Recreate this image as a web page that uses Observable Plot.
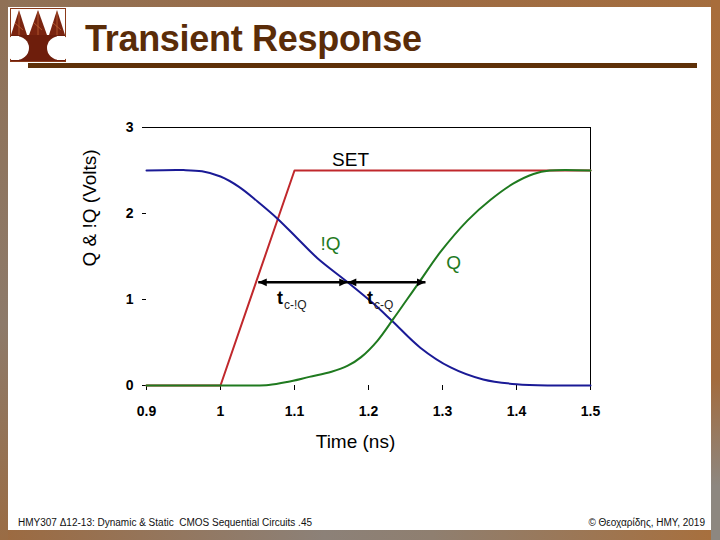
<!DOCTYPE html>
<html>
<head>
<meta charset="utf-8">
<script src="https://cdn.jsdelivr.net/npm/d3@7"></script>
<script src="https://cdn.jsdelivr.net/npm/@observablehq/plot@0.6"></script>
<style>
html, body { margin: 0; padding: 0; }
body {
  width: 720px; height: 540px; overflow: hidden; position: relative;
  background: linear-gradient(90deg, #9c6a40 0%, #8c8178 45%, #8f7f70 60%, #a86f3c 100%);
  font-family: "Liberation Sans", Arial, sans-serif;
}
#topband { position: absolute; left: 0; top: 0; width: 720px; height: 8px;
  background: linear-gradient(90deg, #8f7258 0%, #9a6b46 40%, #a46d3e 100%); }
#leftband { position: absolute; left: 0; top: 0; width: 8px; height: 540px;
  background: linear-gradient(180deg, #8f7055 0%, #8d7a6a 60%, #9a6c44 100%); }
#rightband { position: absolute; left: 711px; top: 0; width: 9px; height: 540px;
  background: linear-gradient(180deg, #a86d3b 0%, #a36b3d 70%, #8d8780 90%); }
#panel { position: absolute; left: 8px; top: 7px; width: 703px; height: 523px; background: #fff; }
#title { position: absolute; left: 85px; top: 21px; font: bold 36px/36px "Liberation Sans", Arial, sans-serif;
  color: #5a2c08; white-space: nowrap; letter-spacing: -0.3px; }
#rule { position: absolute; left: 28px; top: 63px; width: 669px; height: 5px; background: #5e3008; }
#logo { position: absolute; left: 10px; top: 8px; }
#chart { position: absolute; left: 0; top: 100px; }
.foot { position: absolute; top: 518px; font: 10px/10px "Liberation Sans", Arial, sans-serif; color: #111; white-space: nowrap; }
#footL { left: 18px; }
#footR { right: 15px; }
</style>
</head>
<body>
<div id="topband"></div>
<div id="leftband"></div>
<div id="rightband"></div>
<div id="panel"></div>
<svg id="logo" width="56" height="54" viewBox="0 0 56 54">
  <rect x="0.5" y="0.5" width="55" height="53" fill="#fff" stroke="#8b3a1a"/>
  <polygon points="9,2 1,27 17,27" fill="#7a2410"/>
  <polygon points="28,2 19,27 37,27" fill="#7a2410"/>
  <polygon points="47,2 39,27 55,27" fill="#7a2410"/>
  <g stroke="#c76a3a" stroke-width="0.7">
    <line x1="9" y1="4" x2="9" y2="27"/><line x1="28" y1="4" x2="28" y2="27"/><line x1="47" y1="4" x2="47" y2="27"/>
    <line x1="5" y1="15" x2="13" y2="22"/><line x1="24" y1="15" x2="32" y2="22"/><line x1="43" y1="15" x2="51" y2="22"/>
  </g>
  <rect x="1" y="27" width="54" height="26" fill="#6e1e0c"/>
  <ellipse cx="6" cy="40" rx="13" ry="12" fill="#fff"/>
  <ellipse cx="50" cy="40" rx="13" ry="12" fill="#fff"/>
  <rect x="1" y="28" width="8" height="24" fill="#fff"/>
  <rect x="47" y="28" width="8" height="24" fill="#fff"/>
</svg>
<div id="title">Transient Response</div>
<div id="rule"></div>
<div id="chart"></div>
<div class="foot" id="footL">HMY307 Δ12-13: Dynamic &amp; Static &nbsp;CMOS Sequential Circuits .45</div>
<div class="foot" id="footR">© Θεοχαρίδης, HMY, 2019</div>
<script>
// ---- data ----
const setT = [0.9, 1.0, 1.1, 1.5];
const setV = [0, 0, 2.5, 2.5];

const nqT = [0.9, 0.95, 0.975, 1.0, 1.025, 1.05, 1.077, 1.104, 1.131, 1.172, 1.207, 1.232, 1.27, 1.311, 1.355, 1.40, 1.45, 1.5];
const nqV = [2.5, 2.505, 2.49, 2.43, 2.31, 2.14, 1.94, 1.71, 1.48, 1.2, 0.95, 0.75, 0.44, 0.21, 0.07, 0.015, 0.0, 0.0];

const qT = [0.9, 0.95, 1.0, 1.04, 1.065, 1.09, 1.12, 1.15, 1.172, 1.19, 1.212, 1.234, 1.252, 1.27, 1.297, 1.334, 1.365, 1.396, 1.423, 1.445, 1.5];
const qV = [0, 0, 0, 0, 0.005, 0.04, 0.1, 0.16, 0.23, 0.33, 0.52, 0.78, 1.0, 1.22, 1.55, 1.92, 2.16, 2.35, 2.46, 2.5, 2.5];

const xTicks = [0.9, 1.0, 1.1, 1.2, 1.3, 1.4, 1.5];
const xTickLabels = ["0.9", "1", "1.1", "1.2", "1.3", "1.4", "1.5"];
const yTicks = [0, 1, 2, 3];
const yTickLabels = ["0", "1", "2", "3"];

// delay arrows (time from, time to, level)
const arrowFrom = [1.051, 1.172];
const arrowTo = [1.172, 1.277];
const arrowLevel = 1.2;

// curve labels
const curveLabelText = ["SET", "!Q", "Q"];
const curveLabelT = [1.1757, 1.1486, 1.315];
const curveLabelV = [2.628, 1.651, 1.43];
const curveLabelColor = ["#000000", "#1f7a1f", "#1f7a1f"];

// delay labels: t with subscript
const delaySub = ["c-!Q", "c-Q"];
const delayT = [1.0845, 1.2061];
const delayV = [0.942, 0.942];

// ---- build tables ----
const zipTV = (T, V) => T.map((t, i) => ({t, v: V[i]}));
const setData = zipTV(setT, setV);
const nqData = zipTV(nqT, nqV);
const qData = zipTV(qT, qV);
const arrows = arrowFrom.map((a, i) => ({t1: a, t2: arrowTo[i], v: arrowLevel}));
const curveLabels = curveLabelText.map((s, i) => ({s, t: curveLabelT[i], v: curveLabelV[i], c: curveLabelColor[i]}));
const delayLabels = delaySub.map((s, i) => ({s, t: delayT[i], v: delayV[i]}));

const headRight = {draw(ctx, size) { const s = Math.sqrt(size) * 1.2; ctx.moveTo(0, 0); ctx.lineTo(-s, -s * 0.45); ctx.lineTo(-s, s * 0.45); ctx.closePath(); }};
const headLeft = {draw(ctx, size) { const s = Math.sqrt(size) * 1.2; ctx.moveTo(0, 0); ctx.lineTo(s, -s * 0.45); ctx.lineTo(s, s * 0.45); ctx.closePath(); }};

const font = "'Liberation Sans', Arial, sans-serif";

const chart = Plot.plot({
  width: 720,
  height: 370,
  marginLeft: 146,
  marginRight: 130,
  marginTop: 27,
  marginBottom: 85,
  style: {fontFamily: font, background: "transparent", color: "#000"},
  x: {domain: [0.9, 1.5]},
  y: {domain: [0, 3]},
  marks: [
    Plot.ruleY([3], {stroke: "#000", strokeWidth: 1}),
    Plot.ruleX([1.5], {stroke: "#000", strokeWidth: 1}),
    Plot.axisX({ticks: xTicks, tickFormat: (d, i) => xTickLabels[i], tickSize: 5, tickPadding: 16,
      fontSize: 14, fontWeight: "bold", label: null, stroke: "#000"}),
    Plot.axisY({ticks: yTicks, tickFormat: (d, i) => yTickLabels[i], tickSize: 4, tickPadding: 9,
      fontSize: 14, fontWeight: "bold", label: null, stroke: "#000"}),
    Plot.line(setData, {x: "t", y: "v", stroke: "#c0282c", strokeWidth: 2}),
    Plot.line(nqData, {x: "t", y: "v", stroke: "#1a1a96", strokeWidth: 2, curve: "catmull-rom"}),
    Plot.line(qData, {x: "t", y: "v", stroke: "#1f7a1f", strokeWidth: 2, curve: "catmull-rom"}),
    Plot.link(arrows, {x1: "t1", x2: "t2", y1: "v", y2: "v", stroke: "#000", strokeWidth: 2.5}),
    Plot.dot(arrows, {x: "t1", y: "v", symbol: headLeft, r: 4, fill: "#000", stroke: "none"}),
    Plot.dot(arrows, {x: "t2", y: "v", symbol: headRight, r: 4, fill: "#000", stroke: "none"}),
    Plot.text(curveLabels, {x: "t", y: "v", text: "s", fill: "c", fontSize: 19, textAnchor: "middle", lineAnchor: "middle"}),
    Plot.text(delayLabels, {x: "t", y: "v", text: () => "t", fontSize: 18, fontWeight: "bold", textAnchor: "end", lineAnchor: "bottom", fill: "#000"}),
    Plot.text(delayLabels, {x: "t", y: "v", text: "s", fontSize: 12, textAnchor: "start", lineAnchor: "bottom", dx: 1, dy: 5, fill: "#222"}),
    Plot.text(["Time (ns)"], {frameAnchor: "bottom", dx: -13, dy: 56, fontSize: 19, lineAnchor: "middle", fill: "#000"}),
    Plot.text(["Q & !Q (Volts)"], {frameAnchor: "left", rotate: -90, dx: -57, dy: 10, fontSize: 19, lineAnchor: "middle", fill: "#000"})
  ]
});
document.getElementById("chart").appendChild(chart);
</script>
</body>
</html>
